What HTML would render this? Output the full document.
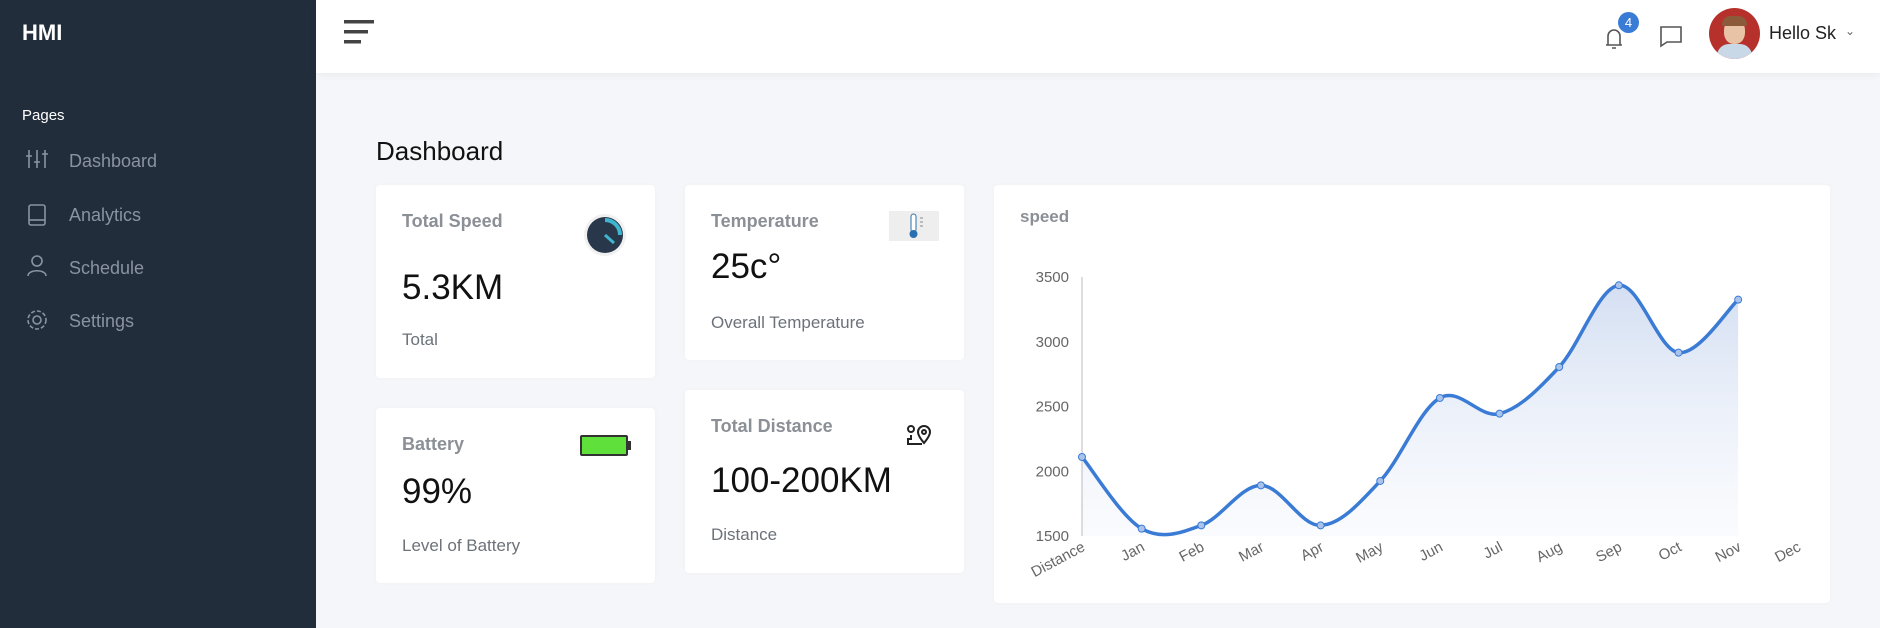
<!DOCTYPE html>
<html><head><meta charset="utf-8"><style>
*{margin:0;padding:0;box-sizing:border-box}
body{width:1880px;height:628px;overflow:hidden;background:#f5f6f9;font-family:"Liberation Sans",sans-serif;position:relative}
.a{position:absolute}
.side{left:0;top:0;width:316px;height:628px;background:#222d3b}
.hdr{left:316px;top:0;width:1564px;height:73px;background:#fff;box-shadow:0 2px 8px rgba(0,0,0,.05)}
.menu{color:#8a93a0;font-size:18px}
.card{background:#fff;border-radius:4px;box-shadow:0 0 4px rgba(0,0,0,.03)}
.ct{color:#8b9097;font-size:18px;font-weight:bold}
.cv{color:#111;font-size:35px}
.cs{color:#6c727a;font-size:17px}
</style></head><body>
<div class="a side"></div>
<div class="a" style="left:22px;top:20px;color:#fff;font-size:22px;font-weight:bold">HMI</div>
<div class="a" style="left:22px;top:107px;color:#fff;font-size:15px">Pages</div>
<svg class="a" style="left:26px;top:148px" width="24" height="200" fill="none" stroke="#8a93a0" stroke-width="1.6">
<path d="M3 2v18M11 2v18M19 2v18M0 8h6M8 14h6M16 6h6"/>
<rect x="3" y="57" width="16" height="20" rx="2"/><path d="M3 72h16"/>
<circle cx="11" cy="113" r="5"/><path d="M2 128c0-7 18-7 18 0"/>
<circle cx="11" cy="172" r="4"/><circle cx="11" cy="172" r="9" stroke-dasharray="4 2"/>
</svg>
<div class="a menu" style="left:69px;top:151px">Dashboard</div>
<div class="a menu" style="left:69px;top:205px">Analytics</div>
<div class="a menu" style="left:69px;top:258px">Schedule</div>
<div class="a menu" style="left:69px;top:311px">Settings</div>
<div class="a hdr"></div>
<svg class="a" style="left:344px;top:20px" width="32" height="26"><rect x="0" y="0" width="30" height="3.5" fill="#444"/><rect x="0" y="10" width="24" height="3.5" fill="#444"/><rect x="0" y="20" width="17" height="3.5" fill="#444"/></svg>
<svg class="a" style="left:1600px;top:18px" width="90" height="32" fill="none" stroke="#555" stroke-width="1.6">
<path d="M6 27h16M8 27v-9a6 6 0 0112 0v9M12 30h4"/>
<path d="M61 9h20v15H67l-6 4z"/>
</svg>
<div class="a" style="left:1618px;top:12px;width:21px;height:21px;border-radius:50%;background:#3a7bd5;color:#fff;font-size:13px;text-align:center;line-height:21px">4</div>
<div class="a" style="left:1709px;top:8px;width:51px;height:51px;border-radius:50%;background:#b7312c;overflow:hidden">
<div class="a" style="left:15px;top:11px;width:21px;height:25px;border-radius:45%;background:#e9c3a6"></div>
<div class="a" style="left:13px;top:8px;width:25px;height:10px;border-radius:10px 10px 2px 2px;background:#8a5a3a"></div>
<div class="a" style="left:8px;top:36px;width:35px;height:20px;border-radius:12px 12px 0 0;background:#c9d8e6"></div></div>
<div class="a" style="left:1769px;top:23px;font-size:18px;color:#222">Hello Sk</div>
<div class="a" style="left:1845px;top:24px;font-size:12px;color:#666">&#8964;</div>
<div class="a" style="left:376px;top:136px;font-size:26px;color:#111">Dashboard</div>

<div class="a card" style="left:376px;top:185px;width:279px;height:193px"></div>
<div class="a ct" style="left:402px;top:211px">Total Speed</div>
<div class="a cv" style="left:402px;top:268px">5.3KM</div>
<div class="a cs" style="left:402px;top:330px">Total</div>
<svg class="a" style="left:582px;top:212px" width="46" height="46"><circle cx="23" cy="23" r="21" fill="#f0f0f0"/><circle cx="23" cy="23" r="18" fill="#28384a"/><path d="M23 8a15 15 0 0115 15" stroke="#3fb6cf" stroke-width="4" fill="none"/><path d="M23 23l9 8" stroke="#3fb6cf" stroke-width="3"/></svg>

<div class="a card" style="left:685px;top:185px;width:279px;height:175px"></div>
<div class="a ct" style="left:711px;top:211px">Temperature</div>
<div class="a cv" style="left:711px;top:247px">25c°</div>
<div class="a cs" style="left:711px;top:313px">Overall Temperature</div>
<div class="a" style="left:889px;top:211px;width:50px;height:30px;background:#eee"></div>
<svg class="a" style="left:900px;top:212px" width="30" height="28"><rect x="11" y="2" width="5" height="18" rx="2.5" fill="#fff" stroke="#2a6fb0"/><circle cx="13.5" cy="22" r="4" fill="#2a6fb0"/><path d="M20 6h3M20 10h3M20 14h3" stroke="#888"/></svg>

<div class="a card" style="left:376px;top:408px;width:279px;height:175px"></div>
<div class="a ct" style="left:402px;top:434px">Battery</div>
<div class="a cv" style="left:402px;top:472px">99%</div>
<div class="a cs" style="left:402px;top:536px">Level of Battery</div>
<div class="a" style="left:580px;top:435px;width:48px;height:21px;border:2px solid #333;border-radius:2px;background:#5fe03a"></div>
<div class="a" style="left:628px;top:441px;width:3px;height:9px;background:#333"></div>

<div class="a card" style="left:685px;top:390px;width:279px;height:183px"></div>
<div class="a ct" style="left:711px;top:416px">Total Distance</div>
<div class="a cv" style="left:711px;top:461px">100-200KM</div>
<div class="a cs" style="left:711px;top:525px">Distance</div>
<svg class="a" style="left:905px;top:423px" width="30" height="26" fill="none" stroke="#222" stroke-width="2"><circle cx="6" cy="6" r="3"/><path d="M19 20c-5-6-6-9-6-11a6 6 0 0112 0c0 2-1 5-6 11z"/><circle cx="19" cy="9" r="2"/><path d="M6 12v4h-3v5h14"/></svg>

<div class="a card" style="left:994px;top:185px;width:836px;height:418px"></div>
<div class="a" style="left:1020px;top:207px;font-size:17px;font-weight:bold;color:#8b9097">speed</div>
<svg id="ch" class="a" style="left:0;top:0" width="1880" height="628"></svg>
<script>
var v=[2110,1557,1582,1891,1582,1925,2566,2445,2805,3436,2916,3325];
var lab=["Distance","Jan","Feb","Mar","Apr","May","Jun","Jul","Aug","Sep","Oct","Nov","Dec"];
var X=i=>1082+i*59.65,Y=val=>536-(val-1500)*0.1295;
var p=v.map((d,i)=>[X(i),Y(d)]);
var d="M"+p[0];
for(var i=0;i<p.length-1;i++){var p0=p[i-1]||p[i],p1=p[i],p2=p[i+1],p3=p[i+2]||p2,t=0.34;
var c1=[p1[0]+(p2[0]-p0[0])*t/2,p1[1]+(p2[1]-p0[1])*t/2],c2=[p2[0]-(p3[0]-p1[0])*t/2,p2[1]-(p3[1]-p1[1])*t/2];
d+="C"+c1+" "+c2+" "+p2;}
var s='<defs><linearGradient id="g" x1="0" y1="0" x2="0" y2="1"><stop offset="0" stop-color="#c9d7ef" stop-opacity=".8"/><stop offset="1" stop-color="#eef2fa" stop-opacity=".3"/></linearGradient></defs>';
s+='<path d="'+d+'L'+X(11)+',536L1082,536Z" fill="url(#g)"/>';
s+='<line x1="1082" y1="277" x2="1082" y2="536" stroke="#bbb"/>';
[1500,2000,2500,3000,3500].forEach(t=>{s+='<text x="1069" y="'+(Y(t)+5)+'" text-anchor="end" font-size="15" fill="#666" font-family="Liberation Sans">'+t+'</text>';});
lab.forEach((l,i)=>{s+='<text transform="translate('+(X(i)+4)+',550) rotate(-28)" text-anchor="end" font-size="15" fill="#666" font-family="Liberation Sans">'+l+'</text>';});
s+='<path d="'+d+'" fill="none" stroke="#3a7bd5" stroke-width="3.5"/>';
p.forEach(q=>{s+='<circle cx="'+q[0]+'" cy="'+q[1]+'" r="3.5" fill="#a9c3ea" stroke="#3a7bd5" stroke-width="1"/>';});
document.getElementById('ch').innerHTML=s;
</script>
</body></html>
